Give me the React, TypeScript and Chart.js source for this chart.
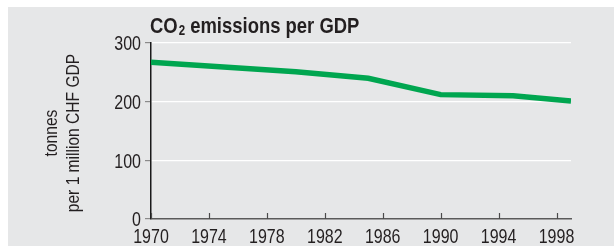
import React, { useEffect, useRef } from "react";
import { Chart, registerables } from "chart.js";

Chart.register(...registerables);

const YEARS = [1970, 1980, 1985, 1990, 1995, 1999];
const CO2_PER_GDP = [267, 251, 240, 212, 210, 201];
const X_TICKS = [1970, 1974, 1978, 1982, 1986, 1990, 1994, 1998];
const Y_TICKS = [0, 100, 200, 300];
const TITLE_MAIN = "CO";
const TITLE_SUB = "2";
const TITLE_REST = " emissions per GDP";
const Y_TITLE = ["tonnes", "per 1 million CHF GDP"];

const FONT = '"Liberation Sans", Arial, sans-serif';
const TEXT = "#231f20";
const NARROW = 0.8;

function drawText(
  ctx: CanvasRenderingContext2D,
  text: string,
  x: number,
  y: number,
  size: number,
  bold: boolean,
  align: CanvasTextAlign,
  sx: number,
  rotate = false
) {
  ctx.save();
  ctx.translate(x, y);
  if (rotate) ctx.rotate(-Math.PI / 2);
  ctx.scale(sx, 1);
  ctx.font = `${bold ? "bold " : ""}${size}px ${FONT}`;
  ctx.textAlign = align;
  ctx.textBaseline = "alphabetic";
  ctx.fillStyle = TEXT;
  ctx.fillText(text, 0, 0);
  const w = ctx.measureText(text).width * sx;
  ctx.restore();
  return w;
}

const overlay = {
  id: "overlay",
  afterDraw(chart: any) {
    const { ctx, chartArea, scales } = chart;
    const xs = scales.x;
    const ys = scales.y;
    ctx.save();
    // x tick marks pointing up into the plot
    ctx.strokeStyle = "#4a4a4a";
    ctx.lineWidth = 1.2;
    for (const t of xs.ticks) {
      const px = Math.round(xs.getPixelForValue(t.value)) + 0.5;
      ctx.beginPath();
      ctx.moveTo(px, chartArea.bottom - 6);
      ctx.lineTo(px, chartArea.bottom);
      ctx.stroke();
    }
    ctx.restore();

    // x labels
    for (const v of X_TICKS) {
      drawText(ctx, String(v), xs.getPixelForValue(v), chartArea.bottom + 24, 20, false, "center", NARROW);
    }
    // y labels
    for (const v of Y_TICKS) {
      drawText(ctx, String(v), chartArea.left - 10, ys.getPixelForValue(v) + 7.2, 20, false, "right", NARROW);
    }
    // y title (two lines, rotated)
    const cy = (chartArea.top + chartArea.bottom) / 2 + 2;
    drawText(ctx, Y_TITLE[0], 49, cy, 19, false, "center", 0.82, true);
    drawText(ctx, Y_TITLE[1], 71, cy, 19, false, "center", 0.82, true);

    // title
    let tx = chartArea.left - 1;
    const ty = 26;
    tx += drawText(ctx, TITLE_MAIN, tx, ty, 22.5, true, "left", 0.82) + 1;
    tx += drawText(ctx, TITLE_SUB, tx, ty + 1.5, 14, true, "left", 0.82);
    drawText(ctx, TITLE_REST, tx, ty, 22.5, true, "left", 0.82);
  },
};

export default function App() {
  const ref = useRef<HTMLCanvasElement>(null);
  useEffect(() => {
    if (!ref.current) return;
    const chart = new Chart(ref.current, {
      type: "line",
      data: {
        datasets: [
          {
            data: YEARS.map((y, i) => ({ x: y, y: CO2_PER_GDP[i] })),
            borderColor: "#00a650",
            borderWidth: 5.5,
            pointRadius: 0,
            tension: 0,
            fill: false,
          },
        ],
      },
      options: {
        animation: false,
        responsive: false,
        devicePixelRatio: 1,
        layout: { padding: { top: 36, right: 43, left: 0, bottom: 0 } },
        plugins: { legend: { display: false }, tooltip: { enabled: false }, title: { display: false } },
        scales: {
          x: {
            type: "linear",
            min: 1970,
            max: 1999,
            afterBuildTicks: (s: any) => {
              s.ticks = X_TICKS.map((v) => ({ value: v }));
            },
            afterFit: (s: any) => {
              s.height = 27;
            },
            grid: { display: false, drawTicks: false, tickLength: 0 },
            border: { display: true, color: "#5a5a5a", width: 1.5 },
            ticks: { display: false },
          },
          y: {
            type: "linear",
            min: 0,
            max: 300,
            afterBuildTicks: (s: any) => {
              s.ticks = Y_TICKS.map((v) => ({ value: v }));
            },
            afterFit: (s: any) => {
              s.width = 143;
            },
            grid: {
              color: (c: any) => (c.tick && c.tick.value === 0 ? "rgba(0,0,0,0)" : "#ffffff"),
              lineWidth: 1.2,
              tickColor: "#8a8a8a",
              tickLength: 6,
            },
            border: { display: true, color: "#1a1a1a", width: 1.5 },
            ticks: { display: false },
          },
        },
      },
      plugins: [overlay],
    } as any);
    return () => chart.destroy();
  }, []);
  return (
    <div
      style={{
        position: "absolute",
        left: 8,
        top: 7,
        width: 606,
        height: 239,
        background: "#e6e7e8",
      }}
    >
      <canvas ref={ref} width={606} height={239} style={{ display: "block" }} />
    </div>
  );
}
